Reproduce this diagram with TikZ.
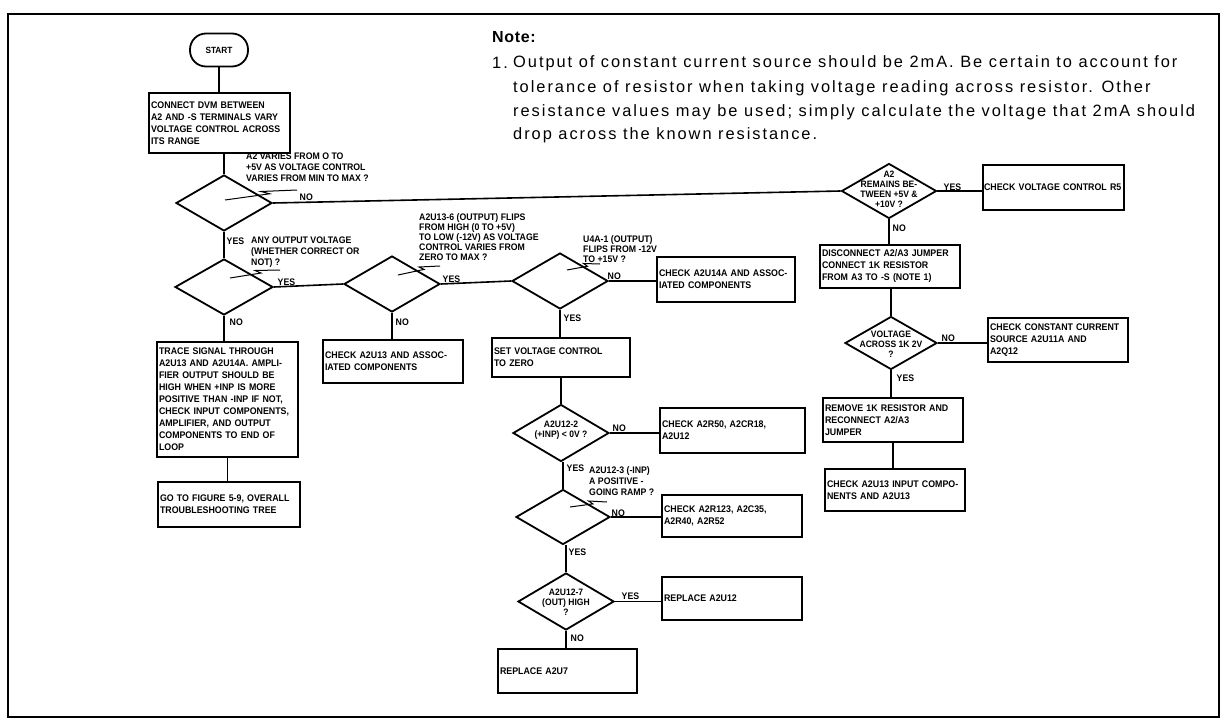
\documentclass[tikz,border=0pt]{standalone}
\usepackage{fontspec}
\setmainfont{Liberation Sans}
\newfontfamily\lettering{Liberation Sans}[FakeStretch=0.92]
\newfontfamily\notefont{Liberation Sans}[LetterSpace=12]
\newfontfamily\notehead{Liberation Sans}[LetterSpace=4]
\usetikzlibrary{shapes.geometric,calc}
\newcommand\ldr[2]{\draw[ldrline] (#1) -- ($(#1)!0.62!(#2)$) -- ($(#1)!0.5!(#2)+(0,-3.5)$) -- (#2);}
\begin{document}
\begin{tikzpicture}[x=1pt,y=-1pt,
  box/.style={draw, line width=1.8pt, inner xsep=2pt, inner ysep=3pt, align=left, minimum width=140pt, text width=136pt,
     font=\lettering\bfseries\fontsize{9.6}{12}\selectfont},
  term/.style={draw, line width=1.8pt, rounded corners=16pt, minimum width=58pt, minimum height=33pt,
     font=\lettering\bfseries\fontsize{9}{11}\selectfont},
  dia/.style={draw, diamond, line width=1.8pt, inner sep=0pt, minimum width=96pt, minimum height=56pt},
  dtext/.style={align=center, inner sep=0pt, font=\lettering\bfseries\fontsize{9.3}{10}\selectfont},
  qtext/.style={align=left, inner sep=0pt, font=\lettering\bfseries\fontsize{9.5}{11}\selectfont},
  lbl/.style={inner sep=0.5pt, font=\lettering\bfseries\fontsize{9.5}{11}\selectfont},
  ldrline/.style={line width=1pt},
  conn/.style={line width=1.6pt},
  note/.style={anchor=west, inner sep=0pt, font=\notefont\fontsize{16.4}{19}\selectfont}]
\useasboundingbox (0,0) rectangle (1225,722);
\draw[line width=1.8pt] (8,14) rectangle (1219,717);

% note
\node[note, font=\notehead\bfseries\fontsize{16}{19}\selectfont] (note0) at (492,37) {Note:};
\node[note] (note1n) at (492,63) {1.};
\node[note] (note1) at (513,63) {Output of constant current source should be 2mA. Be certain to account for};
\node[note] (note2) at (513,88) {tolerance of resistor when taking voltage reading across resistor. Other};
\node[note] (note3) at (513,112) {resistance values may be used; simply calculate the voltage that 2mA should};
\node[note] (note4) at (513,135) {drop across the known resistance.};

% left column
\node[term] (start) at (219,50) {START};
\node[box, minimum width=141pt, minimum height=60pt, text width=137pt] (connect) at (219.5,123) {CONNECT DVM BETWEEN\\A2 AND -S TERMINALS VARY\\VOLTAGE CONTROL ACROSS\\ITS RANGE};
\draw[conn] (start.south) -- (start.south |- connect.north);

\node[dia] (d1) at (224,203) {};
\draw[conn] (connect.south -| d1.north) -- (d1.north);
\node[qtext, anchor=north west] (q1) at (246,153) {A2 VARIES FROM O TO\\+5V AS VOLTAGE CONTROL\\VARIES FROM MIN TO MAX ?};
\coordinate (l1a) at (225,200); \coordinate (l1b) at (297,190);
\ldr{l1a}{l1b}
\node[lbl, anchor=south west] (no1) at (299,201) {NO};

\node[dia, minimum width=98pt] (d2) at (224,287) {};
\draw[conn] (d1.south) -- (d2.north);
\node[lbl, anchor=west] (yes3) at (226,241) {YES};
\node[qtext, anchor=north west] (q2) at (251,237) {ANY OUTPUT VOLTAGE\\(WHETHER CORRECT OR\\NOT) ?};
\coordinate (l2a) at (230,278); \coordinate (l2b) at (280,270);
\ldr{l2a}{l2b}

\node[box, minimum width=141pt, minimum height=115pt, text width=137pt] (trace) at (227.5,399.5) {TRACE SIGNAL THROUGH\\A2U13 AND A2U14A. AMPLI-\\FIER OUTPUT SHOULD BE\\HIGH WHEN +INP IS MORE\\POSITIVE THAN -INP IF NOT,\\CHECK INPUT COMPONENTS,\\AMPLIFIER, AND OUTPUT\\COMPONENTS TO END OF\\LOOP};
\draw[conn] (d2.south) -- (d2.south |- trace.north);
\node[lbl, anchor=west] (no9) at (229,322) {NO};
\node[box, minimum width=142pt, minimum height=45pt, text width=138pt] (goto) at (229,504.5) {GO TO FIGURE 5-9, OVERALL\\TROUBLESHOOTING TREE};
\draw[conn] (trace.south) -- (trace.south |- goto.north);

% second column
\node[dia] (d3) at (392,284) {};
\draw[conn] (d2.east) -- (d3.west);
\node[lbl, anchor=south west] (yes4) at (277,286) {YES};
\node[qtext, anchor=north west, font=\lettering\bfseries\fontsize{9.5}{10}\selectfont] (q3) at (419,213) {A2U13-6 (OUTPUT) FLIPS\\FROM HIGH (0 TO +5V)\\TO LOW (-12V) AS VOLTAGE\\CONTROL VARIES FROM\\ZERO TO MAX ?};
\coordinate (l3a) at (398,275); \coordinate (l3b) at (440,266);
\ldr{l3a}{l3b}
\node[box, minimum height=43pt] (c13) at (393,361.5) {CHECK A2U13 AND ASSOC-\\IATED COMPONENTS};
\draw[conn] (d3.south) -- (d3.south |- c13.north);
\node[lbl, anchor=west] (no4) at (395,322) {NO};

% third column
\node[dia] (d4) at (560,281) {};
\draw[conn] (d3.east) -- (d4.west);
\node[lbl, anchor=south west] (yes5) at (442,283) {YES};
\node[qtext, anchor=north west, font=\lettering\bfseries\fontsize{9.5}{10}\selectfont] (q4) at (583,235) {U4A-1 (OUTPUT)\\FLIPS FROM -12V\\TO +15V ?};
\coordinate (l4a) at (567,270); \coordinate (l4b) at (600,264);
\ldr{l4a}{l4b}
\node[box, minimum width=138pt, text width=134pt, minimum height=45pt] (c14) at (726,279.5) {CHECK A2U14A AND ASSOC-\\IATED COMPONENTS};
\draw[conn] (d4.east) -- (d4.east -| c14.west);
\node[lbl, anchor=south west] (no5) at (607,280) {NO};

\node[box, minimum width=138pt, text width=134pt, minimum height=39pt] (setv) at (561,357.5) {SET VOLTAGE CONTROL\\TO ZERO};
\draw[conn] (d4.south) -- (d4.south |- setv.north);
\node[lbl, anchor=west] (yes6) at (563,318) {YES};

\node[dia, minimum height=57pt] (d5) at (561,433) {};
\node[dtext] (d5t) at (561,430) {A2U12-2\\(+INP) < 0V ?};
\draw[conn] (setv.south -| d5.north) -- (d5.north);
\node[box, minimum width=145pt, text width=141pt, minimum height=45pt] (r50) at (732.5,430.5) {CHECK A2R50, A2CR18,\\A2U12};
\draw[conn] (d5.east) -- (d5.east -| r50.west);
\node[lbl, anchor=south west] (no6) at (612,432) {NO};

\node[dia, minimum width=94pt, minimum height=55pt] (d6) at (563,517) {};
\draw[conn] (d6.north |- d5.south) -- (d6.north);
\node[lbl, anchor=west] (yes7) at (566,468) {YES};
\node[qtext, anchor=north west] (q6) at (589,466) {A2U12-3 (-INP)\\A POSITIVE -\\GOING RAMP ?};
\coordinate (l6a) at (570,507); \coordinate (l6b) at (607,502);
\ldr{l6a}{l6b}
\node[box, minimum height=42pt] (r123) at (732,516) {CHECK A2R123, A2C35,\\A2R40, A2R52};
\draw[conn] (d6.east) -- (d6.east -| r123.west);
\node[lbl, anchor=south west] (no7) at (611,517) {NO};

\node[dia, minimum height=57pt] (d7) at (566,601.5) {};
\node[dtext] (d7t) at (566,602) {A2U12-7\\(OUT) HIGH\\?};
\draw[conn] (d6.south -| d7.north) -- (d7.north);
\node[lbl, anchor=west] (yes8) at (568,552) {YES};
\node[box, minimum height=43pt] (ra12) at (732,598.5) {REPLACE A2U12};
\draw[conn] (d7.east) -- (d7.east -| ra12.west);
\node[lbl, anchor=south west] (yes9) at (621,600) {YES};
\node[box, minimum width=139pt, text width=135pt, minimum height=44pt] (ra7) at (567.5,671) {REPLACE A2U7};
\draw[conn] (d7.south) -- (d7.south |- ra7.north);
\node[lbl, anchor=west] (no8) at (570,638) {NO};

% right column
\node[dia, minimum width=95pt, minimum height=55pt] (dr) at (889,191) {};
\node[dtext] (drt) at (889,189) {A2\\REMAINS BE-\\TWEEN +5V \&\\+10V ?};
\draw[conn] (d1.east) -- (dr.west);
\node[box, minimum width=141pt, text width=139pt, inner xsep=1pt, minimum height=45pt] (cvc) at (1053.5,187.5) {CHECK VOLTAGE CONTROL R5};
\draw[conn] (dr.east) -- (dr.east -| cvc.west);
\node[lbl, anchor=south west] (yes1) at (943,191) {YES};

\node[box, minimum height=43pt] (disc) at (890,266.5) {DISCONNECT A2/A3 JUMPER\\CONNECT 1K RESISTOR\\FROM A3 TO -S (NOTE 1)};
\draw[conn] (dr.south) -- (dr.south |- disc.north);
\node[lbl, anchor=west] (no2) at (892,228) {NO};

\node[dia, minimum width=92pt, minimum height=53pt] (dv) at (891,343) {};
\node[dtext] (dvt) at (891,344) {VOLTAGE\\ACROSS 1K 2V\\?};
\draw[conn] (dv.north |- disc.south) -- (dv.north);
\node[box, minimum height=44pt] (ccs) at (1058,340) {CHECK CONSTANT CURRENT\\SOURCE A2U11A AND\\A2Q12};
\draw[conn] (dv.east) -- (dv.east -| ccs.west);
\node[lbl, anchor=south west] (no3) at (941,342) {NO};

\node[box, minimum height=44pt] (rem) at (893,420) {REMOVE 1K RESISTOR AND\\RECONNECT A2/A3\\JUMPER};
\draw[conn] (dv.south) -- (dv.south |- rem.north);
\node[lbl, anchor=west] (yes2) at (896,378) {YES};
\node[box, minimum height=42pt] (cin) at (895,490) {CHECK A2U13 INPUT COMPO-\\NENTS AND A2U13};
\draw[conn] (rem.south) -- (rem.south |- cin.north);
\end{tikzpicture}
\end{document}
